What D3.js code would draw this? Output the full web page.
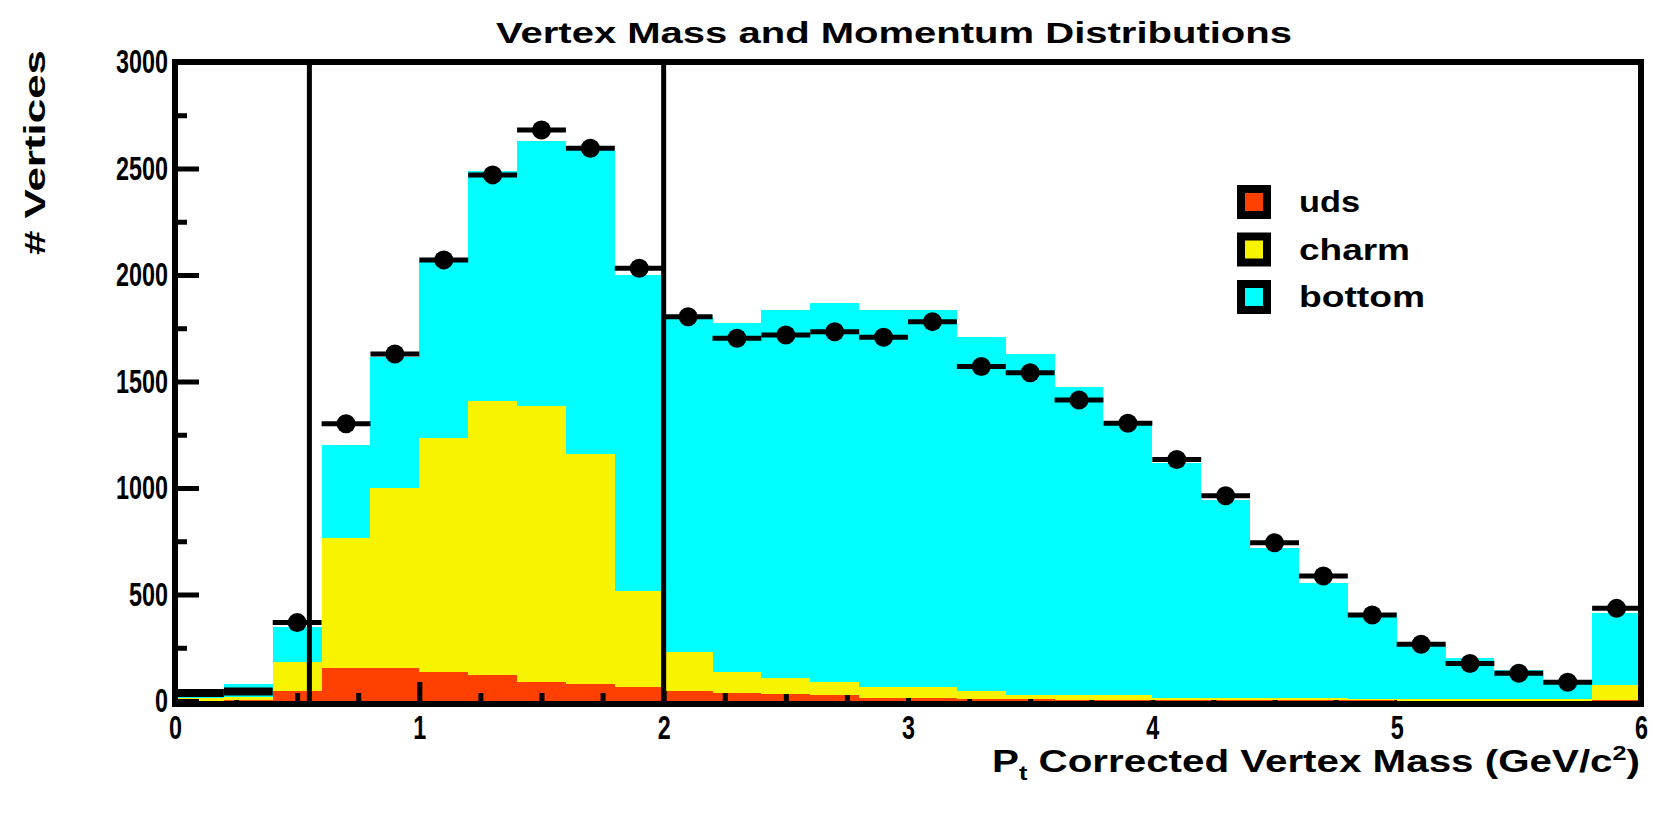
<!DOCTYPE html>
<html>
<head>
<meta charset="utf-8">
<script src="https://cdn.jsdelivr.net/npm/d3@7"></script>
<style>
  body { margin: 0; background: #fff; }
  svg text { font-family: "Liberation Sans", Arial, sans-serif; font-weight: bold; fill: #000; }
</style>
</head>
<body>
<svg id="chart" width="1653" height="814"></svg>
<script>
// bins are 0.2 GeV/c^2 wide
var binCenters = [0.1, 0.3, 0.5, 0.7, 0.9, 1.1, 1.3, 1.5, 1.7, 1.9,
                  2.1, 2.3, 2.5, 2.7, 2.9, 3.1, 3.3, 3.5, 3.7, 3.9,
                  4.1, 4.3, 4.5, 4.7, 4.9, 5.1, 5.3, 5.5, 5.7, 5.9];
var udsVals    = [0, 3, 47, 154, 154, 138, 122, 91, 78, 64,
                  48, 39, 31, 27, 15, 12, 10, 8, 7, 6,
                  5, 4, 4, 3, 3, 2, 2, 2, 2, 4];
var charmVals  = [13, 14, 138, 611, 846, 1097, 1285, 1295, 1083, 454,
                  184, 99, 79, 64, 49, 52, 37, 20, 21, 22,
                  11, 12, 12, 13, 5, 6, 6, 6, 6, 71];
var bottomVals = [15, 63, 164, 438, 617, 828, 1083, 1245, 1426, 1482,
                  1573, 1635, 1726, 1776, 1772, 1772, 1661, 1601, 1448, 1272,
                  1100, 928, 701, 536, 403, 270, 192, 138, 91, 336];
var dataVals   = [38, 45, 368, 1302, 1629, 2071, 2470, 2681, 2595, 2032,
                  1804, 1703, 1718, 1734, 1708, 1781, 1570, 1541, 1413, 1304,
                  1134, 964, 743, 587, 404, 266, 176, 130, 88, 435];
var cutLines = [0.55, 2.0];

var flavours = ["uds", "charm", "bottom"];
var flavourColors = ["#ff4000", "#f8f400", "#00ffff"];
var xMajorTicks = [0, 1, 2, 3, 4, 5, 6];
var xMinorTicks = [0.25, 0.5, 0.75, 1.25, 1.5, 1.75, 2.25, 2.5, 2.75, 3.25, 3.5, 3.75,
                   4.25, 4.5, 4.75, 5.25, 5.5, 5.75];
var yMajorTicks = [0, 500, 1000, 1500, 2000, 2500, 3000];
var yMinorTicks = [250, 750, 1250, 1750, 2250, 2750];

var BIN_HALF = 0.1;
var FRAME = { left: 175, right: 1641, top: 62, bottom: 701 };
var DIGIT_W = 13;

function buildChart() {
    var svg = d3.select("#chart");

    var x = d3.scaleLinear().domain([0, 6]).range([FRAME.left, FRAME.right]);
    var y = d3.scaleLinear().domain([0, 3000]).range([FRAME.bottom, FRAME.top]);
    var color = d3.scaleOrdinal().domain(flavours).range(flavourColors);
    var fmt = d3.format("d");

    var rows = binCenters.map(function(c, i) {
        return { c: c, uds: udsVals[i], charm: charmVals[i], bottom: bottomVals[i] };
    });
    var layers = d3.stack().keys(flavours)(rows);

    function drawLayer(layer) {
        svg.append("g")
            .selectAll("rect")
            .data(layer)
            .enter().append("rect")
            .attr("shape-rendering", "crispEdges")
            .attr("fill", color(layer.key))
            .attr("x", function(d) { return x(d.data.c - BIN_HALF); })
            .attr("width", function(d) { return x(d.data.c + BIN_HALF) - x(d.data.c - BIN_HALF); })
            .attr("y", function(d) { return y(d[1]); })
            .attr("height", function(d) { return y(d[0]) - y(d[1]); });
    }

    // uds first, then the x ticks, the other flavours cover them
    drawLayer(layers[0]);

    var axisY = FRAME.bottom + 3;
    svg.append("g")
        .attr("class", "axis axis--x-minor")
        .attr("transform", "translate(0," + axisY + ")")
        .call(d3.axisBottom(x).tickValues(xMinorTicks).tickSize(-11).tickFormat(""));
    svg.append("g")
        .attr("class", "axis axis--x")
        .attr("transform", "translate(0," + axisY + ")")
        .call(d3.axisBottom(x).tickValues(xMajorTicks).tickSize(-22).tickPadding(12).tickFormat(fmt));

    drawLayer(layers[1]);
    drawLayer(layers[2]);

    svg.append("g")
        .attr("class", "axis axis--y-minor")
        .attr("transform", "translate(" + FRAME.left + ",0)")
        .call(d3.axisLeft(y).tickValues(yMinorTicks).tickSize(-12).tickFormat(""));
    svg.append("g")
        .attr("class", "axis axis--y")
        .attr("transform", "translate(" + FRAME.left + ",0)")
        .call(d3.axisLeft(y).tickValues(yMajorTicks).tickSize(-24).tickPadding(7).tickFormat(fmt));

    svg.selectAll(".axis .domain").remove();
    svg.selectAll(".axis line").attr("stroke", "#000").attr("stroke-width", 5);
    svg.selectAll(".axis text")
        .attr("font-size", 33)
        .attr("font-family", null)
        .attr("fill", "#000")
        .attr("lengthAdjust", "spacingAndGlyphs")
        .attr("textLength", function(d) { return fmt(d).length * DIGIT_W; });

    // frame
    svg.append("rect")
        .attr("x", FRAME.left)
        .attr("y", FRAME.top)
        .attr("width", FRAME.right - FRAME.left)
        .attr("height", axisY - FRAME.top)
        .attr("fill", "none")
        .attr("stroke", "#000")
        .attr("stroke-width", 6);

    svg.selectAll(".cut")
        .data(cutLines)
        .enter().append("line")
        .attr("class", "cut")
        .attr("x1", function(d) { return x(d); })
        .attr("x2", function(d) { return x(d); })
        .attr("y1", FRAME.top)
        .attr("y2", axisY)
        .attr("stroke", "#000")
        .attr("stroke-width", 5);

    // data points
    var points = binCenters.map(function(c, i) { return { c: c, v: dataVals[i] }; });
    svg.append("g")
        .selectAll("line")
        .data(points)
        .enter().append("line")
        .attr("x1", function(d) { return x(d.c - BIN_HALF); })
        .attr("x2", function(d) { return x(d.c + BIN_HALF); })
        .attr("y1", function(d) { return y(d.v); })
        .attr("y2", function(d) { return y(d.v); })
        .attr("stroke", "#000")
        .attr("stroke-width", function(d) { return d.v < 60 ? 8 : 5; });
    // near-empty bins get no marker, only the bar
    svg.append("g")
        .selectAll("circle")
        .data(points.filter(function(d) { return d.v >= 60; }))
        .enter().append("circle")
        .attr("cx", function(d) { return x(d.c); })
        .attr("cy", function(d) { return y(d.v); })
        .attr("r", 9.5)
        .attr("fill", "#000");

    // legend
    var legend = svg.append("g").attr("transform", "translate(1254,202)");
    var item = legend.selectAll("g")
        .data(flavours)
        .enter().append("g")
        .attr("transform", function(d, i) { return "translate(0," + (i * 47.5) + ")"; });
    item.append("rect")
        .attr("x", -13).attr("y", -13)
        .attr("width", 26).attr("height", 26)
        .attr("fill", function(d) { return color(d); })
        .attr("stroke", "#000")
        .attr("stroke-width", 8);
    var legendWidths = { uds: 61, charm: 111, bottom: 126 };
    item.append("text")
        .attr("x", 45)
        .attr("dy", "0.35em")
        .attr("font-size", 29)
        .attr("lengthAdjust", "spacingAndGlyphs")
        .attr("textLength", function(d) { return legendWidths[d]; })
        .text(function(d) { return d; });

    // titles
    svg.append("text")
        .attr("x", 894)
        .attr("y", 43)
        .attr("text-anchor", "middle")
        .attr("font-size", 30)
        .attr("lengthAdjust", "spacingAndGlyphs")
        .attr("textLength", 796)
        .text("Vertex Mass and Momentum Distributions");

    svg.append("text")
        .attr("transform", "translate(45,50) rotate(-90)")
        .attr("text-anchor", "end")
        .attr("font-size", 30)
        .attr("lengthAdjust", "spacingAndGlyphs")
        .attr("textLength", 205)
        .text("# Vertices");

    var xTitle = svg.append("text")
        .attr("x", 1640)
        .attr("y", 772)
        .attr("text-anchor", "end")
        .attr("font-size", 32)
        .attr("lengthAdjust", "spacingAndGlyphs")
        .attr("textLength", 648);
    xTitle.append("tspan").text("P");
    xTitle.append("tspan").attr("font-size", 20).attr("dy", 8).text("t");
    xTitle.append("tspan").attr("dy", -8).text(" Corrected Vertex Mass (GeV/c");
    xTitle.append("tspan").attr("font-size", 20).attr("dy", -12).text("2");
    xTitle.append("tspan").attr("dy", 12).text(")");
}

buildChart();
</script>
</body>
</html>
